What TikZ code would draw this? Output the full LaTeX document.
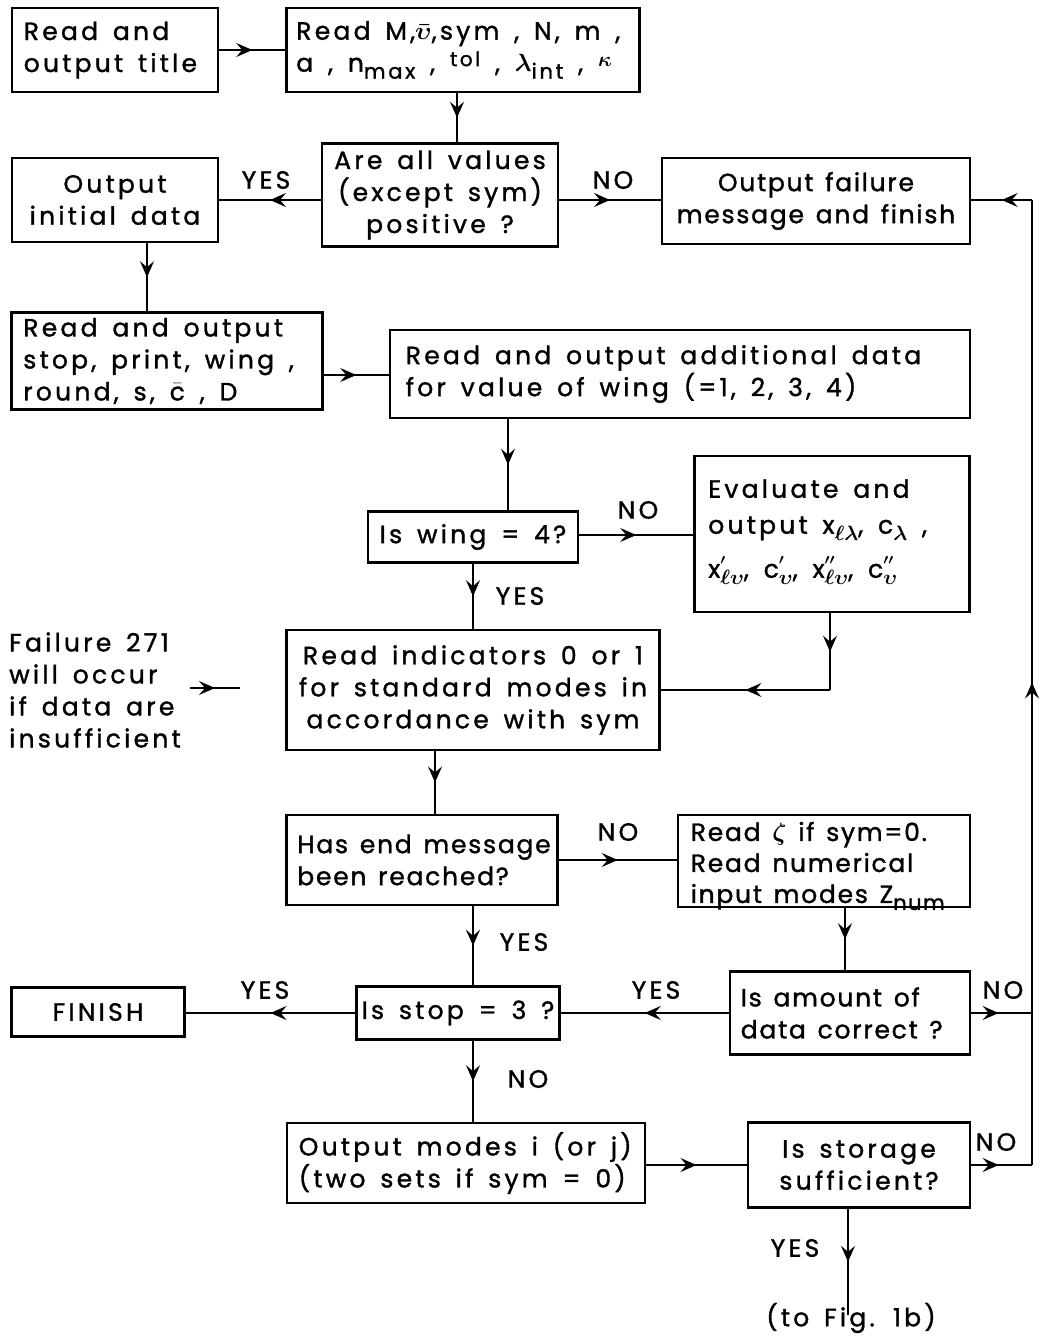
\documentclass[tikz,border=0pt]{standalone}
\usepackage{amsmath}
\usepackage{fontspec}
\setmainfont[LetterSpace=13,FakeBold=1.3,WordSpace=1.5]{Poppins}
\newfontfamily\narrowf[LetterSpace=7,FakeBold=1.3,WordSpace=1.4]{Poppins}
\usetikzlibrary{arrows.meta,decorations.markings}
\newcommand\fs{\fontsize{25}{32}\selectfont}
\newcommand\fsb{\fontsize{25}{31}\selectfont}
\newcommand\lo[1]{\raisebox{-0.28em}{\fontsize{21}{21}\selectfont #1}}
\newcommand\hi[1]{\raisebox{0.22em}{\fontsize{20}{20}\selectfont #1}}
\newcommand\gk[1]{$\boldsymbol{#1}$}
\tikzset{
 box/.style={draw,line width=2.8pt,inner sep=0pt,font=\fs,align=center},
 txt/.style={font=\fs,inner sep=0pt,align=left,anchor=west},
 conn/.style={line width=1.7pt},
 ma/.style={postaction={decorate,decoration={markings,mark=at position #1 with {\arrow[line width=1.3pt]{Stealth[length=16pt,width=14pt,inset=6pt]}}}}},
 ma/.default=0.5,
 lbl/.style={font=\fs,inner sep=0pt},
}
\begin{document}
\begin{tikzpicture}[x=1pt,y=-1pt]
\useasboundingbox (0,0) rectangle (1047,1336);
% boxes
\node[box,minimum width=206pt,minimum height=84pt] (b1) at (115,50) {};
\node[txt] (t1) at ([xshift=13pt]b1.west) {Read and\\output title};
\node[box,minimum width=353pt,minimum height=84pt] (b2) at (463,50) {};
\node[txt] (t2) at ([xshift=11pt]b2.west) {Read M,\gk{\bar{\upsilon}},sym , N, m ,\\a , n\lo{max} , \hi{tol} , \gk{\lambda}\lo{int} , \hi{\gk{\kappa}}};
\node[box,minimum width=236pt,minimum height=103pt] (b3) at (440,195) {Are all values\\(except sym)\\positive ?};
\node[box,minimum width=206pt,minimum height=84pt] (b4) at (115,200) {Output\\initial data};
\node[box,minimum width=308pt,minimum height=86pt,font=\fs\narrowf] (b5) at (816,201) {Output failure\\message and finish};
\node[box,minimum width=311pt,minimum height=97pt] (b6) at (167,361) {};
\node[txt] (t6) at ([xshift=13pt]b6.west) {Read and output\\stop, print, wing ,\\round, s, $\bar{\text{c}}$ , D};
\node[box,minimum width=580pt,minimum height=88pt] (b7) at (680,374) {};
\node[txt] (t7) at ([xshift=17pt]b7.west) {Read and output additional data\\for value of wing (=1, 2, 3, 4)};
\node[box,minimum width=210pt,minimum height=51pt] (b8) at (473,537) {Is wing = 4?};
\node[box,minimum width=275pt,minimum height=156pt] (b9) at (832,534) {};
\node[txt] (t9) at ([xshift=15pt,yshift=2pt]b9.west) {Evaluate and\\[4pt]output x\lo{\gk{\ell\lambda}}, c\lo{\gk{\lambda}} ,\\[12pt]x\rlap{\hi{\gk{'}}}\lo{\gk{\ell\upsilon}}, c\rlap{\hi{\gk{'}}}\lo{\gk{\upsilon}}, x\rlap{\hi{\gk{''}}}\lo{\gk{\ell\upsilon}}, c\rlap{\hi{\gk{''}}}\lo{\gk{\upsilon}}};
\node[box,minimum width=373pt,minimum height=120pt] (b10) at (473,690) {Read indicators 0 or 1\\for standard modes in\\accordance with sym};
\node[box,minimum width=271pt,minimum height=90pt] (b11) at (422,860) {};
\node[txt,font=\fs\narrowf] (t11) at ([xshift=12pt]b11.west) {Has end message\\been reached?};
\node[box,minimum width=292pt,minimum height=92pt] (b12) at (824,861) {};
\node[txt,font=\fsb\narrowf] (t12) at ([xshift=14pt,yshift=-5pt]b12.west) {Read \gk{\zeta} if sym=0.\\Read numerical\\input modes Z\lo{num}};
\node[box,minimum width=240pt,minimum height=83pt] (b13) at (850,1013) {};
\node[txt,font=\fs\narrowf] (t13) at ([xshift=12pt]b13.west) {Is amount of\\data correct ?};
\node[box,minimum width=203pt,minimum height=53pt] (b14) at (458,1013) {Is stop = 3 ?};
\node[box,minimum width=173pt,minimum height=49pt] (b15) at (98,1012) {FINISH};
\node[box,minimum width=358pt,minimum height=80pt] (b16) at (466,1163) {};
\node[txt] (t16) at ([xshift=13pt]b16.west) {Output modes i (or j)\\(two sets if sym = 0)};
\node[box,minimum width=222pt,minimum height=85pt] (b17) at (859,1165) {Is storage\\sufficient?};
\node[txt] (ft) at (9,690) {Failure 271\\will occur\\if data are\\insufficient};
\node[lbl] (tf) at (851,1318) {(to Fig. 1b)};
% coordinates
\coordinate (c1) at (457,0);
\coordinate (c2) at (147,0);
\coordinate (c3) at (0,375);
\coordinate (c4) at (508,0);
\coordinate (c5) at (0,535);
\coordinate (c6) at (473,0);
\coordinate (k1) at (830,690);
\coordinate (c7) at (435,0);
\coordinate (c8) at (0,860);
\coordinate (c9) at (845,0);
\coordinate (c10) at (0,1013);
\coordinate (c11) at (0,1165);
\coordinate (c12) at (848,0);
\coordinate (r1) at (1032,1013);
\coordinate (r2) at (1032,1165);
\coordinate (r3) at (1032,200);
\coordinate (fs) at (190,688);
\coordinate (fa) at (240,688);
% connectors
\draw[conn,ma] (b1.east) -- (b2.west);
\draw[conn,ma] (b2.south -| c1) -- (b3.north -| c1);
\draw[conn,ma] (b3.west |- r3) -- (b4.east |- r3);
\draw[conn,ma] (b3.east |- r3) -- (b5.west |- r3);
\draw[conn,ma] (b4.south -| c2) -- (b6.north -| c2);
\draw[conn,ma] (b6.east |- c3) -- (b7.west |- c3);
\draw[conn,ma] (b7.south -| c4) -- (b8.north -| c4);
\draw[conn,ma] (b8.east |- c5) -- (b9.west |- c5);
\draw[conn,ma] (b8.south -| c6) -- (b10.north -| c6);
\draw[conn,ma] (b9.south -| k1) -- (k1);
\draw[conn,ma] (k1) -- (b10.east |- k1);
\draw[conn,ma] (fs) -- (fa);
\draw[conn,ma] (b10.south -| c7) -- (b11.north -| c7);
\draw[conn,ma] (b11.east |- c8) -- (b12.west |- c8);
\draw[conn,ma] (b11.south -| c6) -- (b14.north -| c6);
\draw[conn,ma] (b12.south -| c9) -- (b13.north -| c9);
\draw[conn,ma] (b13.west |- c10) -- (b14.east |- c10);
\draw[conn,ma] (b14.west |- c10) -- (b15.east |- c10);
\draw[conn,ma=0.45] (b13.east |- c10) -- (r1);
\draw[conn,ma] (b14.south -| c6) -- (b16.north -| c6);
\draw[conn,ma] (b16.east |- c11) -- (b17.west |- c11);
\draw[conn,ma=0.45] (b17.east |- c11) -- (r2);
\draw[conn,ma] (r2) -- (r3);
\draw[conn,ma] (r3) -- (b5.east |- r3);
\draw[conn,ma] (b17.south -| c12) -- ([yshift=-12pt]tf.north -| c12);
% labels
\node[lbl] at (266,180) {YES};
\node[lbl] at (613,180) {NO};
\node[lbl] at (638,510) {NO};
\node[lbl] at (520,596) {YES};
\node[lbl] at (618,832) {NO};
\node[lbl] at (524,942) {YES};
\node[lbl] at (656,990) {YES};
\node[lbl] at (1003,990) {NO};
\node[lbl] at (265,990) {YES};
\node[lbl] at (528,1079) {NO};
\node[lbl] at (996,1142) {NO};
\node[lbl] at (795,1248) {YES};
\end{tikzpicture}
\end{document}
